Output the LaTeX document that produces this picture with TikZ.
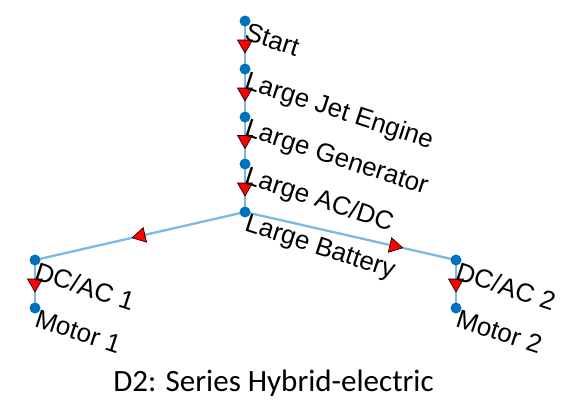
\documentclass[tikz,border=0pt]{standalone}
\usepackage{fontspec}
\setmainfont{Liberation Sans}
\newfontfamily\capfont{Carlito}
\usetikzlibrary{decorations.markings}
\definecolor{dotblue}{RGB}{0,114,189}
\definecolor{edgeblue}{RGB}{125,184,224}
\tikzset{
  dotnode/.style={circle,fill=dotblue,inner sep=0pt,minimum size=11bp},
  edgeline/.style={draw=edgeblue,line width=2.3bp},
  arr/.style={postaction={decorate},decoration={markings,
     mark=at position #1 with {\draw[fill=red,draw=black,line width=0.6bp,line join=miter]
       (-5bp,7.5bp) -- (8bp,0bp) -- (-5bp,-7.5bp) -- cycle;}}},
  lab/.style={anchor=north west,inner sep=0pt,rotate=-18,
     font=\fontsize{26bp}{29bp}\selectfont,text=black},
}
\begin{document}
\begin{tikzpicture}[x=1bp,y=-1bp]
\useasboundingbox (0,0) rectangle (564,401);
\fill[white] (0,0) rectangle (564,401);
% node positions
\coordinate (s) at (245,21);
\coordinate (j) at (245,69);
\coordinate (g) at (245,117);
\coordinate (a) at (245,164);
\coordinate (b) at (245,212);
\coordinate (d1) at (35,260);
\coordinate (m1) at (35,308);
\coordinate (d2) at (456,260);
\coordinate (m2) at (456,308);
% edges
\draw[edgeline,arr=0.5] (s) -- (j);
\draw[edgeline,arr=0.5] (j) -- (g);
\draw[edgeline,arr=0.5] (g) -- (a);
\draw[edgeline,arr=0.5] (a) -- (b);
\draw[edgeline,arr=0.5] (b) -- (d1);
\draw[edgeline,arr=0.71] (b) -- (d2);
\draw[edgeline,arr=0.5] (d1) -- (m1);
\draw[edgeline,arr=0.5] (d2) -- (m2);
% dots
\foreach \n in {s,j,g,a,b,d1,m1,d2,m2} \node[dotnode] (n\n) at (\n) {};
% labels
\node[lab] (ls) at ([xshift=4bp,yshift=-1bp]s) {Start};
\node[lab] (lj) at ([xshift=4bp,yshift=-1bp]j) {Large Jet Engine};
\node[lab] (lg) at ([xshift=4bp,yshift=-1bp]g) {Large Generator};
\node[lab] (la) at ([xshift=4bp,yshift=-1bp]a) {Large AC/DC};
\node[lab] (lb) at ([xshift=4bp,yshift=-1bp]b) {Large Battery};
\node[lab] (ld1) at ([xshift=4bp,yshift=-1bp]d1) {DC/AC 1};
\node[lab] (lm1) at ([xshift=4bp,yshift=-1bp]m1) {Motor 1};
\node[lab] (ld2) at ([xshift=4bp,yshift=-1bp]d2) {DC/AC 2};
\node[lab] (lm2) at ([xshift=4bp,yshift=-1bp]m2) {Motor 2};
% caption
\node[anchor=base,inner sep=0pt,font=\capfont\fontsize{31bp}{34bp}\selectfont] (cap) at (273.5,391) {D2: Series Hybrid-electric};
\end{tikzpicture}
\end{document}
